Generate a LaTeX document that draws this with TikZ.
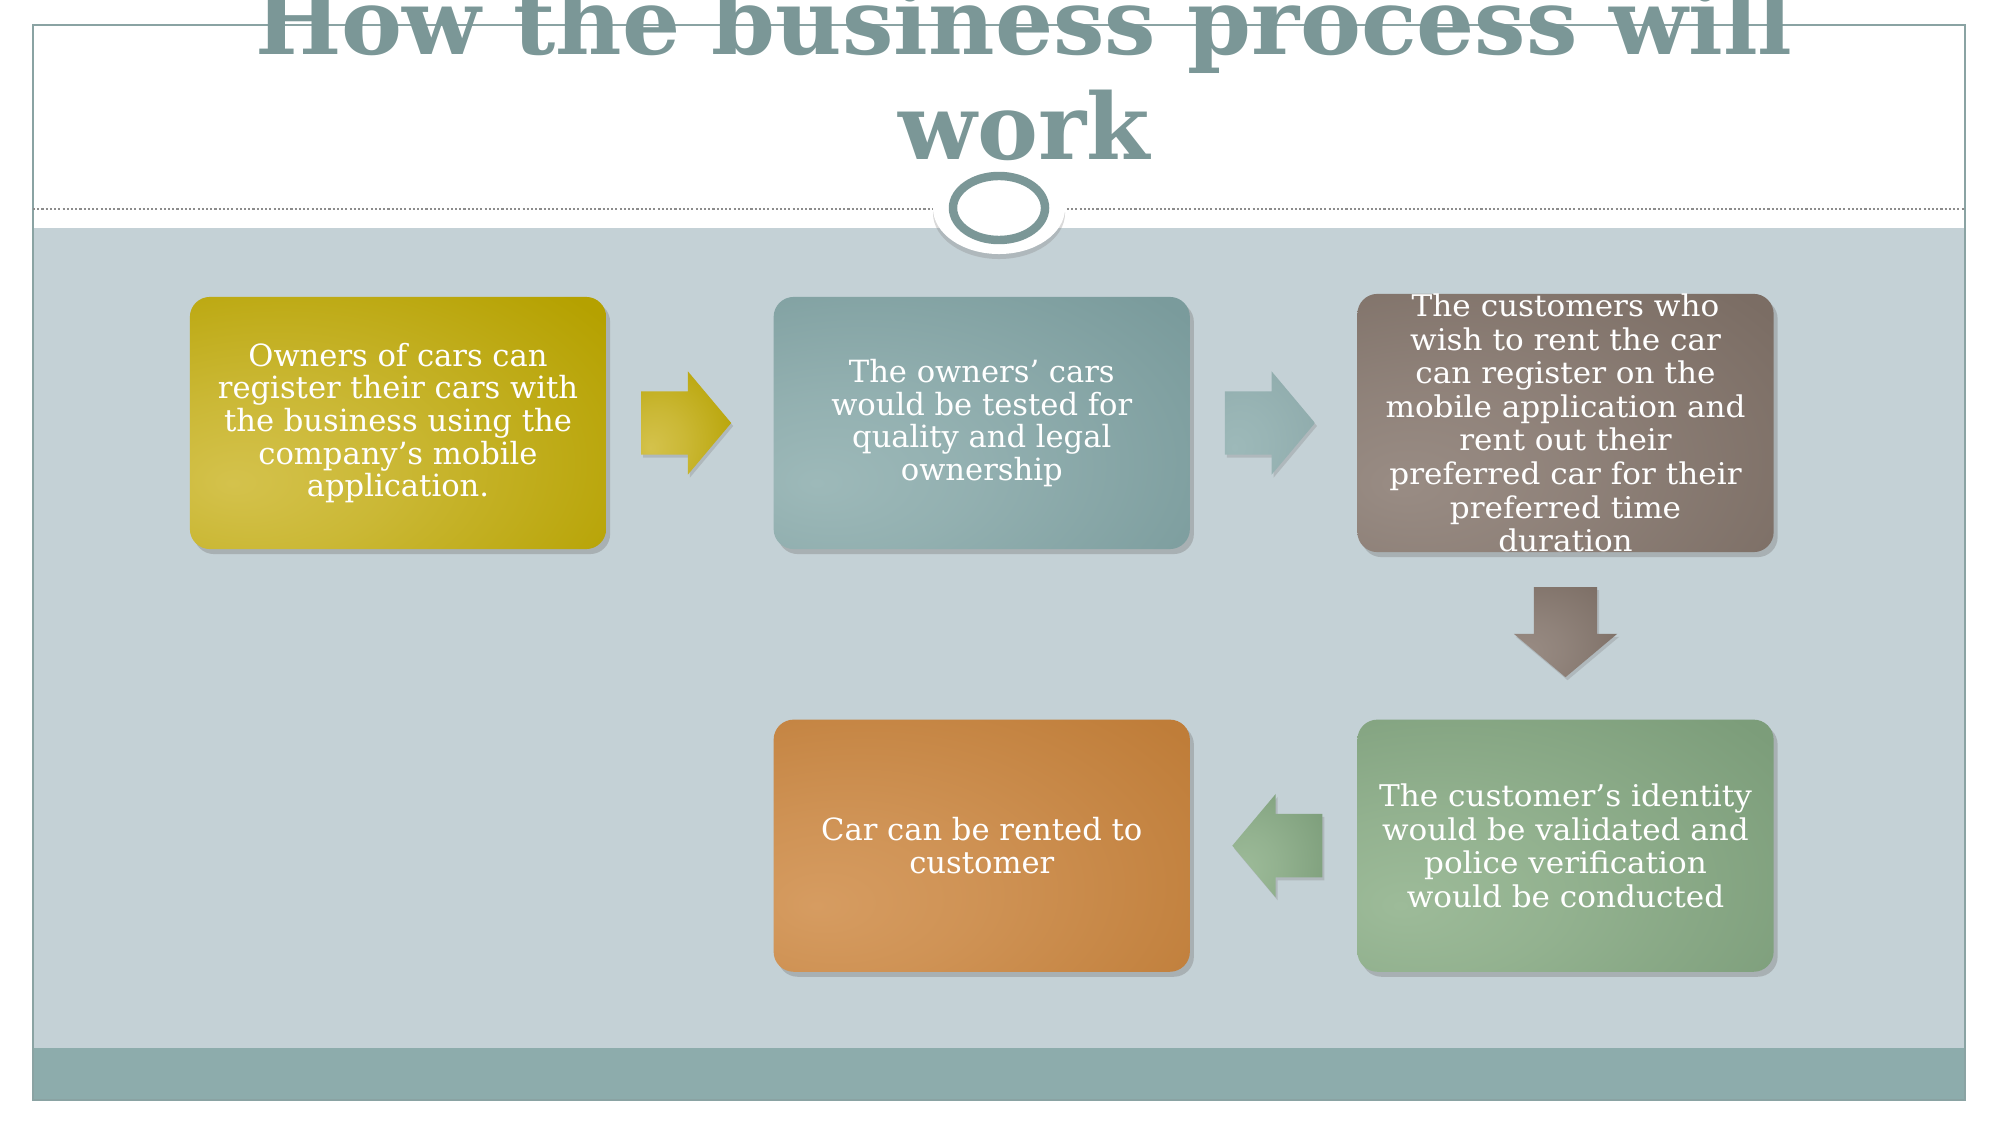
\documentclass[tikz,border=0pt]{standalone}
\usepackage{fontspec}
\setmainfont{DejaVu Serif}
\newfontfamily\wideserif{DejaVu Serif}[FakeStretch=1.04]
\usetikzlibrary{shapes.arrows, shapes.geometric, shadows, calc, positioning}
\definecolor{slate}{HTML}{7B9797}
\definecolor{bodybg}{HTML}{C4D1D6}
\definecolor{band}{HTML}{8DACAC}
\definecolor{framec}{HTML}{8AA3A3}
\definecolor{goldD}{HTML}{B5A100}
\definecolor{goldL}{HTML}{D4C24C}
\definecolor{tealD}{HTML}{7A9B9C}
\definecolor{tealL}{HTML}{9DB9B9}
\definecolor{brownD}{HTML}{7B6D64}
\definecolor{brownL}{HTML}{998C84}
\definecolor{greenD}{HTML}{7C9D7A}
\definecolor{greenL}{HTML}{9DBB99}
\definecolor{orangeD}{HTML}{BF7D39}
\definecolor{orangeL}{HTML}{D69C61}
\colorlet{glowin}{white}
\colorlet{glowout}{black}
\pgfdeclareradialshading[glowin,glowout]{glow}{\pgfpoint{-20bp}{-12bp}}{%
  color(0bp)=(glowin); color(16bp)=(glowin!70!glowout);
  color(45bp)=(glowout); color(100bp)=(glowout)}
\tikzset{
  tint/.style 2 args = {/utils/exec={\colorlet{glowin}{#1}\colorlet{glowout}{#2}},
    shading=glow},
  stage/.style 2 args = {rectangle, rounded corners=0.2cm, minimum width=4.16cm,
    minimum height=2.52cm, inner sep=0pt, align=center, text=white,
    tint={#1}{#2},
    drop shadow={shadow xshift=0.04cm, shadow yshift=-0.05cm, opacity=0.4}},
  cfont/.style = {font=\fontsize{8.7}{9.3}\selectfont},
  rfont/.style = {font=\wideserif\fontsize{8.5}{9.55}\selectfont},
  flow/.style 2 args = {single arrow, minimum height=0.9cm, inner xsep=0pt,
    inner ysep=0.31cm, single arrow head extend=0.2cm, single arrow tip angle=100,
    tint={#1}{#2},
    drop shadow={shadow xshift=0.02cm, shadow yshift=-0.03cm, opacity=0.3}},
  ttl/.style = {align=center, text=slate,
    font=\bfseries\fontsize{26}{29.9}\selectfont},
  node distance=1.66cm
}

\begin{document}
\begin{tikzpicture}[x=0.01cm, y=-0.01cm]
  \useasboundingbox (0,0) rectangle (2001,1125);
  % slide
  \fill [bodybg] (33,228) rectangle (1965,1048);
  \fill [band] (33,1048) rectangle (1965,1100);
  \draw [framec, line width=0.4pt] (33,25) rectangle (1965,1100);
  \draw [black!45, dash pattern=on 0.6pt off 0.6pt, line width=0.4pt] (33,209) -- (1965,209);
  \node [ttl] (head) at (1024,73) {How the business process will\\work};

  % ring under the title
  \node [ellipse, fill=white, minimum width=1.32cm, minimum height=0.92cm,
    drop shadow={shadow xshift=0cm, shadow yshift=-0.05cm, opacity=0.3}] (halo) at (999,208) {};
  \node [ellipse, draw=slate, line width=2.4pt, minimum width=0.92cm,
    minimum height=0.64cm, inner sep=0pt] (ring) at (halo.center) {};

  % the steps
  \node [stage={goldL}{goldD}, cfont] (own) at (398,423)
    {Owners of cars can\\register their cars with\\the business using the\\company’s mobile\\application.};
  \node [stage={tealL}{tealD}, cfont, right=of own] (test)
    {The owners’ cars\\would be tested for\\quality and legal\\ownership};
  \node [stage={brownL}{brownD}, rfont, right=of test] (cust)
    {The customers who\\wish to rent the car\\can register on the\\mobile application and\\rent out their\\preferred car for their\\preferred time\\duration};
  \node [stage={greenL}{greenD}, rfont, below=of cust] (chk)
    {The customer’s identity\\would be validated and\\police verification\\would be conducted};
  \node [stage={orangeL}{orangeD}, cfont, left=of chk] (rent)
    {Car can be rented to\\customer};

  % arrows
  \node [flow={goldL}{goldD}] (a1) at ($(own.east)!0.5!(test.west)+(-17,0)$) {};
  \node [flow={tealL}{tealD!85!white}] (a2) at ($(test.east)!0.5!(cust.west)+(-17,0)$) {};
  \node [flow={brownL}{brownD}, rotate=-90] (a3) at ($(cust.south)!0.5!(chk.north)+(0,-17)$) {};
  \node [flow={greenL}{greenD}, rotate=180] (a4) at ($(chk.west)!0.5!(rent.east)+(17,0)$) {};
\end{tikzpicture}
\end{document}
